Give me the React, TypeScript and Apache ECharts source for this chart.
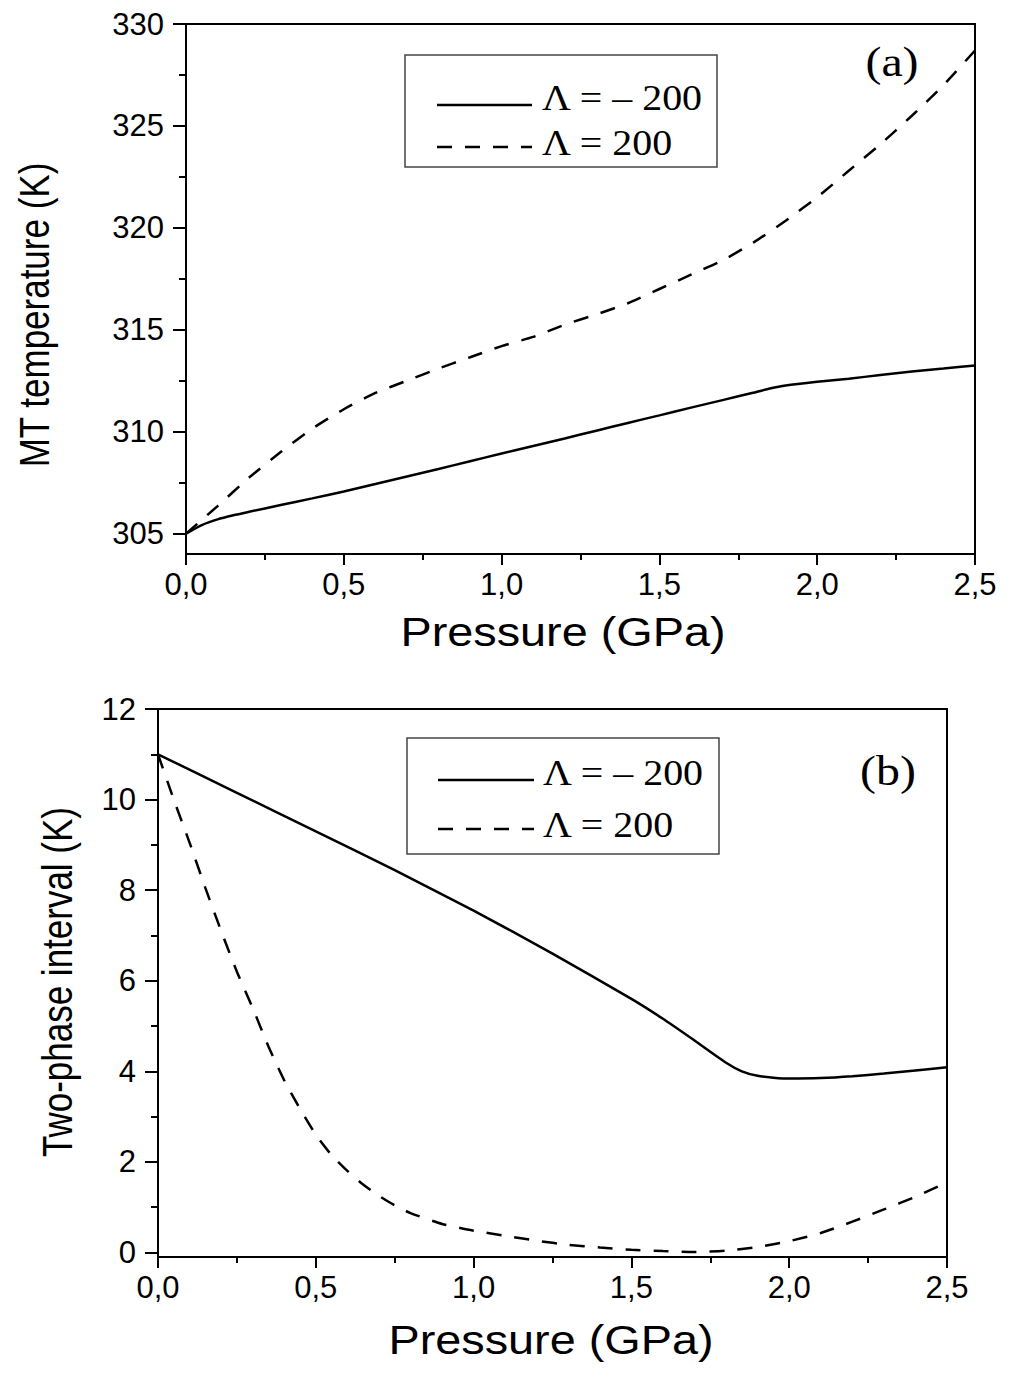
import React, { useEffect, useRef } from "react";
import * as echarts from "echarts";

// Panel (a): MT temperature (K) vs pressure (GPa)
const pressA_solid = [0, 0.05, 0.1, 0.15, 0.2, 0.3, 0.4, 0.5, 0.6, 0.7, 0.8, 0.9, 1.0, 1.1, 1.2, 1.3, 1.4, 1.5, 1.6, 1.7, 1.8, 1.85, 1.9, 2.0, 2.1, 2.2, 2.3, 2.4, 2.5];
const tempA_solid = [305, 305.42, 305.7, 305.9, 306.07, 306.4, 306.73, 307.07, 307.43, 307.8, 308.17, 308.55, 308.93, 309.3, 309.67, 310.05, 310.43, 310.8, 311.18, 311.55, 311.92, 312.12, 312.27, 312.45, 312.6, 312.78, 312.95, 313.1, 313.25];
const pressA_dashed = [0, 0.1, 0.2, 0.3, 0.4, 0.5, 0.6, 0.7, 0.8, 0.9, 1.0, 1.1, 1.2, 1.3, 1.4, 1.5, 1.6, 1.7, 1.8, 1.9, 2.0, 2.1, 2.2, 2.3, 2.4, 2.5];
const tempA_dashed = [305, 306.35, 307.75, 309.0, 310.15, 311.1, 311.9, 312.5, 313.1, 313.65, 314.2, 314.65, 315.25, 315.75, 316.3, 317.0, 317.7, 318.4, 319.3, 320.35, 321.5, 322.8, 324.1, 325.5, 327.0, 328.7];

// Panel (b): two-phase interval (K) vs pressure (GPa)
const pressB_solid = [0, 0.25, 0.5, 0.75, 1.0, 1.25, 1.5, 1.6, 1.7, 1.8, 1.85, 1.9, 1.95, 2.0, 2.1, 2.2, 2.3, 2.4, 2.5];
const intB_solid = [11.0, 10.15, 9.3, 8.44, 7.55, 6.6, 5.6, 5.16, 4.68, 4.19, 4.0, 3.9, 3.86, 3.84, 3.85, 3.89, 3.95, 4.02, 4.09];
const pressB_dashed = [0, 0.05, 0.1, 0.15, 0.2, 0.25, 0.3, 0.35, 0.4, 0.45, 0.5, 0.55, 0.6, 0.65, 0.7, 0.75, 0.8, 0.9, 1.0, 1.1, 1.2, 1.3, 1.4, 1.5, 1.6, 1.7, 1.8, 1.9, 2.0, 2.1, 2.2, 2.3, 2.4, 2.5];
const intB_dashed = [11.0, 10.0, 9.05, 8.05, 7.1, 6.2, 5.4, 4.55, 3.8, 3.17, 2.6, 2.15, 1.8, 1.5, 1.25, 1.04, 0.87, 0.63, 0.48, 0.37, 0.26, 0.17, 0.11, 0.06, 0.03, 0.01, 0.04, 0.12, 0.25, 0.43, 0.68, 0.95, 1.23, 1.55];

// Tick values
const yTicksA = [305, 310, 315, 320, 325, 330];
const yMinorA = [307.5, 312.5, 317.5, 322.5, 327.5];
const yTicksB = [0, 2, 4, 6, 8, 10, 12];
const yMinorB = [1, 3, 5, 7, 9, 11];

const seriesNames = ["Λ = – 200", "Λ = 200"];
const xTitle = "Pressure (GPa)";
const yTitleA = "MT temperature (K)";
const yTitleB = "Two-phase interval (K)";

const zip = (xs: number[], ys: number[]) => xs.map((x, i) => [x, ys[i]]);

const SANS = "Liberation Sans, Arial, sans-serif";
const SERIF = "Liberation Serif, Times New Roman, serif";
const DASH = [15, 13];

function xAxisCfg(gridIndex: number) {
  return {
    type: "value",
    gridIndex,
    min: 0,
    max: 2.5,
    interval: 0.5,
    axisLine: { show: true, onZero: false, lineStyle: { color: "#000", width: 2 } },
    axisTick: { show: true, inside: false, length: 11, lineStyle: { color: "#000", width: 2 } },
    minorTick: { show: true, splitNumber: 2, length: 6, lineStyle: { color: "#000", width: 2 } },
    splitLine: { show: false },
    minorSplitLine: { show: false },
    axisLabel: {
      color: "#000",
      fontSize: 31,
      fontFamily: SANS,
      margin: 15,
      formatter: (v: number) => v.toFixed(1).replace(".", ","),
    },
  };
}

function yAxisMain(gridIndex: number, min: number, max: number, ticks: number[]) {
  return {
    type: "value",
    gridIndex,
    min,
    max,
    position: "left",
    axisLine: { show: true, onZero: false, lineStyle: { color: "#000", width: 2 } },
    axisTick: { show: true, inside: false, length: 13, customValues: ticks, lineStyle: { color: "#000", width: 2 } },
    splitLine: { show: false },
    axisLabel: {
      color: "#000",
      fontSize: 31,
      fontFamily: SANS,
      margin: 22,
      customValues: ticks,
      formatter: (v: number) => String(v),
    },
  };
}

function yAxisMinor(gridIndex: number, min: number, max: number, ticks: number[]) {
  return {
    type: "value",
    gridIndex,
    min,
    max,
    position: "left",
    axisLine: { show: false },
    axisTick: { show: true, inside: false, length: 7, customValues: ticks, lineStyle: { color: "#000", width: 2 } },
    splitLine: { show: false },
    axisLabel: { show: false },
  };
}

function legendGraphic(x: number, y: number, w: number, h: number, y1: number, y2: number, lx0: number, lx1: number, tx: number) {
  return [
    { type: "rect", shape: { x, y, width: w, height: h }, style: { fill: "#fff", stroke: "#444", lineWidth: 1.5 }, z: 10 },
    { type: "line", shape: { x1: lx0, y1, x2: lx1, y2: y1 }, style: { stroke: "#000", lineWidth: 2.5 }, z: 11 },
    { type: "line", shape: { x1: lx0, y1: y2, x2: lx1, y2 }, style: { stroke: "#000", lineWidth: 2.5, lineDash: DASH }, z: 11 },
    { type: "text", x: tx, y: y1 - 7, scaleX: 1.14, style: { text: seriesNames[0], fontSize: 35, fontFamily: SERIF, fill: "#000", align: "left", verticalAlign: "middle" }, z: 11 },
    { type: "text", x: tx, y: y2 - 4, scaleX: 1.14, style: { text: seriesNames[1], fontSize: 35, fontFamily: SERIF, fill: "#000", align: "left", verticalAlign: "middle" }, z: 11 },
  ];
}

export default function App() {
  const ref = useRef<HTMLDivElement>(null);
  useEffect(() => {
    document.body.style.margin = "0";
    if (!ref.current) return;
    const chart = echarts.init(ref.current, null, { renderer: "svg" });
    const lineBase = { type: "line", showSymbol: false, symbol: "none", smooth: 0.2 };
    chart.setOption({
      animation: false,
      backgroundColor: "#fff",
      grid: [
        { left: 186, top: 24, width: 789, height: 530, show: true, borderColor: "#000", borderWidth: 2, backgroundColor: "transparent" },
        { left: 158, top: 709, width: 789, height: 548, show: true, borderColor: "#000", borderWidth: 2, backgroundColor: "transparent" },
      ],
      xAxis: [xAxisCfg(0), xAxisCfg(1)],
      yAxis: [
        yAxisMain(0, 304, 330, yTicksA),
        yAxisMinor(0, 304, 330, yMinorA),
        yAxisMain(1, -0.1, 12, yTicksB),
        yAxisMinor(1, -0.1, 12, yMinorB),
      ],
      series: [
        { ...lineBase, name: seriesNames[0], xAxisIndex: 0, yAxisIndex: 0, data: zip(pressA_solid, tempA_solid), lineStyle: { color: "#000", width: 2.5 } },
        { ...lineBase, name: seriesNames[1], xAxisIndex: 0, yAxisIndex: 0, data: zip(pressA_dashed, tempA_dashed), lineStyle: { color: "#000", width: 2.5, type: DASH } },
        { ...lineBase, name: seriesNames[0], xAxisIndex: 1, yAxisIndex: 2, data: zip(pressB_solid, intB_solid), lineStyle: { color: "#000", width: 2.5 } },
        { ...lineBase, name: seriesNames[1], xAxisIndex: 1, yAxisIndex: 2, data: zip(pressB_dashed, intB_dashed), lineStyle: { color: "#000", width: 2.5, type: DASH } },
      ],
      graphic: [
        ...legendGraphic(405, 55, 312, 112, 105, 147, 437, 532, 542),
        ...legendGraphic(407, 738, 312, 116, 780, 829, 438, 534, 543),
        { type: "text", x: 892, y: 62, scaleX: 1.14, style: { text: "(a)", fontSize: 42, fontFamily: SERIF, fill: "#000", align: "center", verticalAlign: "middle" } },
        { type: "text", x: 888, y: 771, scaleX: 1.14, style: { text: "(b)", fontSize: 42, fontFamily: SERIF, fill: "#000", align: "center", verticalAlign: "middle" } },
        { type: "text", x: 563, y: 632, scaleX: 1.17, style: { text: xTitle, fontSize: 40, fontFamily: SANS, fill: "#000", align: "center", verticalAlign: "middle" } },
        { type: "text", x: 551, y: 1340, scaleX: 1.17, style: { text: xTitle, fontSize: 40, fontFamily: SANS, fill: "#000", align: "center", verticalAlign: "middle" } },
        { type: "text", x: 34, y: 315, rotation: Math.PI / 2, scaleY: 1.2, style: { text: yTitleA, fontSize: 35, fontFamily: SANS, fill: "#000", align: "center", verticalAlign: "middle" } },
        { type: "text", x: 57, y: 982, rotation: Math.PI / 2, scaleY: 1.2, style: { text: yTitleB, fontSize: 35, fontFamily: SANS, fill: "#000", align: "center", verticalAlign: "middle" } },
      ],
    });
    return () => chart.dispose();
  }, []);
  return <div ref={ref} style={{ width: 1024, height: 1385 }} />;
}
